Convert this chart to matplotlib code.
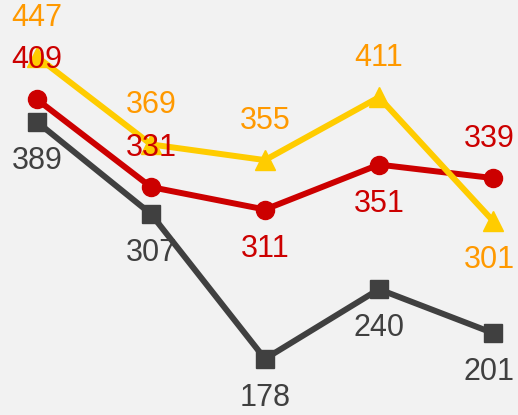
import matplotlib.pyplot as plt

positions = [0, 1, 2, 3, 4]
yellow_vals = [447, 369, 355, 411, 301]
red_vals = [409, 331, 311, 351, 339]
gray_vals = [389, 307, 178, 240, 201]

# label placement per point: +1 above, -1 below
yellow_side = [1, 1, 1, 1, -1]
red_side = [1, 1, -1, -1, 1]
gray_side = [-1, -1, -1, -1, -1]

plt.rcParams['font.family'] = ['Liberation Sans Narrow', 'Liberation Sans', 'DejaVu Sans']

fig = plt.figure(figsize=(5.18, 4.15), dpi=100)
fig.patch.set_facecolor('#f2f2f2')
ax = fig.add_axes([0, 0, 1, 1])
ax.set_facecolor('#f2f2f2')

series = [
    (gray_vals, gray_side, '#404040', '#404040', 's', 13),
    (red_vals, red_side, '#cc0000', '#cc0000', 'o', 13),
    (yellow_vals, yellow_side, '#ffcc00', '#ff9900', '^', 14),
]

for vals, side, col, lcol, mk, ms in series:
    ax.plot(positions, vals, color=col, lw=4.3, marker=mk, markersize=ms, zorder=2)
    for x, v, s in zip(positions, vals, side):
        dx = -4 if x == positions[-1] else 0
        ax.annotate(str(v), (x, v), xytext=(dx, 39 * s), textcoords='offset pixels',
                    ha='center', va='center', fontsize=22, color=lcol, zorder=5)

ax.set_xlim(-0.325, 4.22)
ax.set_ylim(128, 497.6)
ax.axis('off')

fig.savefig('out.png', dpi=100, facecolor=fig.get_facecolor())
